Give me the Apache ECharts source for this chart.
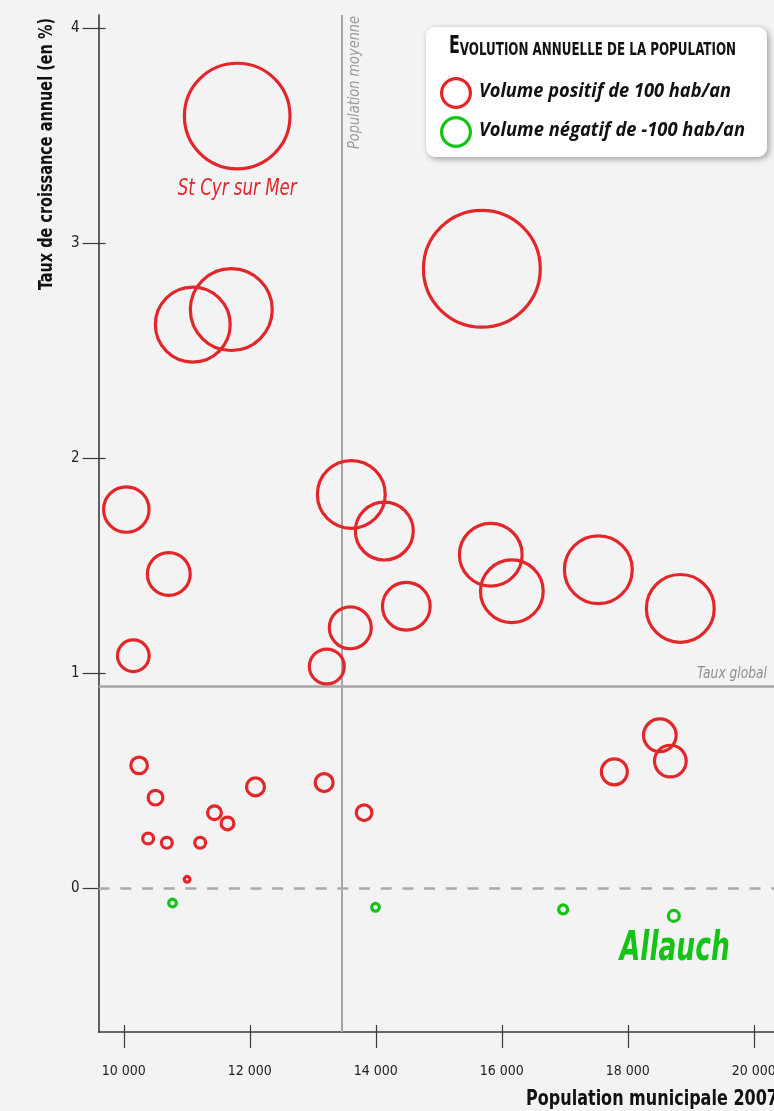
<!DOCTYPE html>
<html><head><meta charset="utf-8">
<script src="https://cdn.jsdelivr.net/npm/echarts@6/dist/echarts.min.js"></script>
<style>html,body{margin:0;padding:0;background:#f3f3f3;overflow:hidden;}#c{width:774px;height:1111px;}</style>
</head><body><div id="c"></div><script>
// ---- data ----
const xTicks = [10000, 12000, 14000, 16000, 18000, 20000];
const yTicks = [0, 1, 2, 3, 4];
const popPositive = [11800, 11095, 11706, 15683, 10040, 10714, 10151, 13611, 14135, 14484, 13595, 13222, 15825, 16159, 17532, 18833, 18508, 18675, 17786, 10243, 10503, 10386, 10683, 11212, 11439, 11646, 12090, 13180, 13814, 11005];
const ratePositive = [3.59, 2.62, 2.69, 2.88, 1.76, 1.46, 1.08, 1.83, 1.66, 1.31, 1.21, 1.03, 1.55, 1.38, 1.48, 1.30, 0.71, 0.59, 0.54, 0.57, 0.42, 0.23, 0.21, 0.21, 0.35, 0.30, 0.47, 0.49, 0.35, 0.04];
const volumePositive = [340, 244, 266, 375, 152, 144, 109, 222, 191, 159, 141, 119, 206, 206, 222, 222, 112, 109, 91, 62, 56, 44, 44, 44, 53, 50, 66, 66, 59, 28];
const namesPositive = ['St Cyr sur Mer', '', '', '', '', '', '', '', '', '', '', '', '', '', '', '', '', '', '', '', '', '', '', '', '', '', '', '', '', ''];
const popNegative = [10773, 13995, 16973, 18730];
const rateNegative = [-0.07, -0.09, -0.10, -0.13];
const volumeNegative = [34, 34, 38, 44];
const namesNegative = ['', '', '', 'Allauch'];
const avgPopulation = 13460;
const globalRate = 0.935;
const legendVolume = 100;

// ---- style ----
const NARROW = "'Liberation Sans Narrow','DejaVu Sans Condensed','Arial Narrow',sans-serif";
const SANS = "'Open Sans',sans-serif";
const RED = '#e3262a', GREEN = '#14c414', GREY = '#a6a6a6', AXIS = '#3a3a3a';
const RING = 3.2;
const X_MIN = 9600, X_MAX = 20320, Y_MIN = -0.67, Y_MAX = 4.06;
function sizeOf(v) { return v * 0.32 - RING; }
function build(pop, rate, vol, names) {
  return pop.map((p, i) => ({ value: [p, rate[i], vol[i]], name: names[i] }));
}
const fmtThousands = v => String(v).replace(/\B(?=(\d{3})+(?!\d))/g, ' ');
const mctx = document.createElement('canvas').getContext('2d');
function textW(text, size, family, weight, style) {
  mctx.font = (style || 'normal') + ' ' + (weight || 'normal') + ' ' + size + 'px ' + family;
  return mctx.measureText(text).width;
}
function fit(text, size, family, weight, style, target) {
  return target / textW(text, size, family, weight, style);
}

// layout
const G_LEFT = 98.6, G_TOP = 15, G_BOTTOM = 79, H = 1111;
const chart = echarts.init(document.getElementById('c'), null, { renderer: 'canvas' });

// helper grids: their edges sit on the main axes so their outward ticks form the inner half of each crossing tick
function tickAxis(gridIndex, position, min, max, ticks) {
  return {
    gridIndex: gridIndex, type: 'value', position: position, min: min, max: max, splitLine: { show: false },
    axisLine: { show: false, onZero: false },
    axisTick: { show: true, length: 7, lineStyle: { color: AXIS, width: 1.2 }, customValues: ticks },
    axisLabel: { show: false }
  };
}
function hiddenAxis(gridIndex) {
  return { gridIndex: gridIndex, type: 'value', show: false, min: 0, max: 1 };
}

const option = {
  backgroundColor: '#f3f3f3',
  animation: false,
  grid: [
    { left: G_LEFT, right: 0, top: G_TOP, bottom: G_BOTTOM, outerBoundsMode: 'none', containLabel: false },
    { left: G_LEFT, right: 0, top: H - G_BOTTOM, height: 20, outerBoundsMode: 'none', containLabel: false },
    { left: 0, width: G_LEFT, top: G_TOP, bottom: G_BOTTOM, outerBoundsMode: 'none', containLabel: false }
  ],
  xAxis: [{
    gridIndex: 0, type: 'value', position: 'bottom', min: X_MIN, max: X_MAX, splitLine: { show: false },
    axisLine: { show: true, onZero: false, lineStyle: { color: AXIS, width: 1.6 } },
    axisTick: { show: true, length: 16, lineStyle: { color: AXIS, width: 1.2 }, customValues: xTicks },
    axisLabel: { show: true, customValues: xTicks, formatter: fmtThousands, margin: 32, fontFamily: NARROW, fontSize: 14, color: '#222' }
  },
  tickAxis(1, 'top', X_MIN, X_MAX, xTicks),
  hiddenAxis(2)],
  yAxis: [{
    gridIndex: 0, type: 'value', position: 'left', min: Y_MIN, max: Y_MAX, splitLine: { show: false },
    axisLine: { show: true, onZero: false, lineStyle: { color: AXIS, width: 1.6 } },
    axisTick: { show: true, length: 16, lineStyle: { color: AXIS, width: 1.2 }, customValues: yTicks },
    axisLabel: { show: true, customValues: yTicks, margin: 19, fontFamily: NARROW, fontSize: 15, color: '#222' }
  },
  hiddenAxis(1),
  tickAxis(2, 'right', Y_MIN, Y_MAX, yTicks)],
  series: [{
    type: 'scatter', name: 'positif', z: 3, silent: true, xAxisIndex: 0, yAxisIndex: 0,
    data: build(popPositive, ratePositive, volumePositive, namesPositive),
    symbol: 'circle',
    symbolSize: d => sizeOf(d[2]),
    itemStyle: { color: 'rgba(0,0,0,0)', borderColor: RED, borderWidth: RING, opacity: 1 },
    markLine: {
      silent: true, symbol: 'none', animation: false, z: 1,
      label: { show: false },
      data: [
        { xAxis: avgPopulation, lineStyle: { color: GREY, width: 2, type: 'solid' } },
        { yAxis: globalRate, lineStyle: { color: GREY, width: 2.5, type: 'solid' } },
        { yAxis: 0, lineStyle: { color: '#aaaaaa', width: 2.6, type: [11, 10.7] } }
      ]
    }
  }, {
    type: 'scatter', name: 'negatif', z: 3, silent: true, xAxisIndex: 0, yAxisIndex: 0,
    data: build(popNegative, rateNegative, volumeNegative, namesNegative),
    symbol: 'circle',
    symbolSize: d => sizeOf(d[2]),
    itemStyle: { color: 'rgba(0,0,0,0)', borderColor: GREEN, borderWidth: RING, opacity: 1 }
  }]
};
chart.setOption(option);

// text placed from data coordinates
const px = v => chart.convertToPixel({ gridIndex: 0 }, v);
const pMoy = px([avgPopulation, Y_MAX]);
const pTaux = px([X_MAX, globalRate]);
const pTop = px([X_MIN, Y_MAX]);
const rLeg = sizeOf(legendVolume) / 2;
const graphics = [];

function pointLabels(pop, rate, vol, names, cfg) {
  names.forEach((n, i) => {
    if (!n) return;
    const p = px([pop[i], rate[i]]);
    const r = (sizeOf(vol[i]) + RING) / 2;
    graphics.push({ type: 'text', x: p[0] + cfg.dx, y: p[1] + r + cfg.gap, z: 6,
      scaleX: fit(n, cfg.size, NARROW, cfg.weight, 'italic', cfg.width),
      style: { text: n, fontFamily: NARROW, fontStyle: 'italic', fontWeight: cfg.weight, fontSize: cfg.size, fill: cfg.color, align: 'center', verticalAlign: 'middle' } });
  });
}
pointLabels(popPositive, ratePositive, volumePositive, namesPositive, { dx: 0, gap: 19, size: 23, weight: 'normal', color: RED, width: 119 });
pointLabels(popNegative, rateNegative, volumeNegative, namesNegative, { dx: 1, gap: 27, size: 40, weight: 'bold', color: GREEN, width: 110 });

const tMoy = 'Population moyenne', tTaux = 'Taux global';
const tY = 'Taux de croissance annuel (en %)', tX = 'Population municipale 2007';
graphics.push(
  { type: 'text', x: pMoy[0] + 13, y: pMoy[1] + 1, rotation: Math.PI / 2, z: 5,
    scaleX: fit(tMoy, 16, NARROW, 'normal', 'italic', 133),
    style: { text: tMoy, fontFamily: NARROW, fontStyle: 'italic', fontSize: 16, fill: '#9a9a9a', align: 'right', verticalAlign: 'middle' } },
  { type: 'text', x: pTaux[0] - 7, y: pTaux[1] - 13, z: 5,
    scaleX: fit(tTaux, 16, NARROW, 'normal', 'italic', 70),
    style: { text: tTaux, fontFamily: NARROW, fontStyle: 'italic', fontSize: 16, fill: '#8f8f8f', align: 'right', verticalAlign: 'middle' } },
  { type: 'text', x: 47, y: pTop[1] + 3, rotation: Math.PI / 2, z: 5,
    scaleX: fit(tY, 20, NARROW, 'bold', 'normal', 272),
    style: { text: tY, fontFamily: NARROW, fontWeight: 'bold', fontSize: 20, fill: '#111', align: 'right', verticalAlign: 'middle' } },
  { type: 'text', x: 526, y: 1099, z: 5,
    scaleX: fit(tX, 22, NARROW, 'bold', 'normal', 252),
    style: { text: tX, fontFamily: NARROW, fontWeight: 'bold', fontSize: 22, fill: '#111', align: 'left', verticalAlign: 'middle' } }
);

const tE = 'E', tRest = 'VOLUTION ANNUELLE DE LA POPULATION';
const titleScale = 287 / (textW(tE, 24, NARROW, 'bold') + textW(tRest, 18, NARROW, 'bold'));
const tPos = 'Volume positif de 100 hab/an', tNeg = 'Volume négatif de -100 hab/an';
graphics.push({ type: 'group', z: 10, children: [
  { type: 'rect', shape: { x: 426, y: 27, width: 341, height: 130, r: 9 },
    style: { fill: '#ffffff', shadowBlur: 6, shadowColor: 'rgba(0,0,0,0.35)', shadowOffsetX: 2, shadowOffsetY: 2 } },
  { type: 'text', x: 449, y: 47, scaleX: titleScale,
    style: { text: '{a|' + tE + '}{b|' + tRest + '}', verticalAlign: 'middle', align: 'left',
      rich: { a: { fontFamily: NARROW, fontWeight: 'bold', fontSize: 24, fill: '#111', verticalAlign: 'bottom' },
              b: { fontFamily: NARROW, fontWeight: 'bold', fontSize: 18, fill: '#111', verticalAlign: 'bottom' } } } },
  { type: 'circle', shape: { cx: 456, cy: 93, r: rLeg }, style: { fill: 'none', stroke: RED, lineWidth: RING } },
  { type: 'circle', shape: { cx: 456, cy: 132, r: rLeg }, style: { fill: 'none', stroke: GREEN, lineWidth: RING } },
  { type: 'text', x: 479, y: 92, scaleX: fit(tPos, 19, SANS, 'bold', 'italic', 252),
    style: { text: tPos, fontFamily: SANS, fontWeight: 'bold', fontStyle: 'italic', fontSize: 19, fill: '#111', verticalAlign: 'middle' } },
  { type: 'text', x: 479, y: 131, scaleX: fit(tNeg, 19, SANS, 'bold', 'italic', 266),
    style: { text: tNeg, fontFamily: SANS, fontWeight: 'bold', fontStyle: 'italic', fontSize: 19, fill: '#111', verticalAlign: 'middle' } }
] });
chart.setOption({ graphic: graphics });
</script></body></html>
